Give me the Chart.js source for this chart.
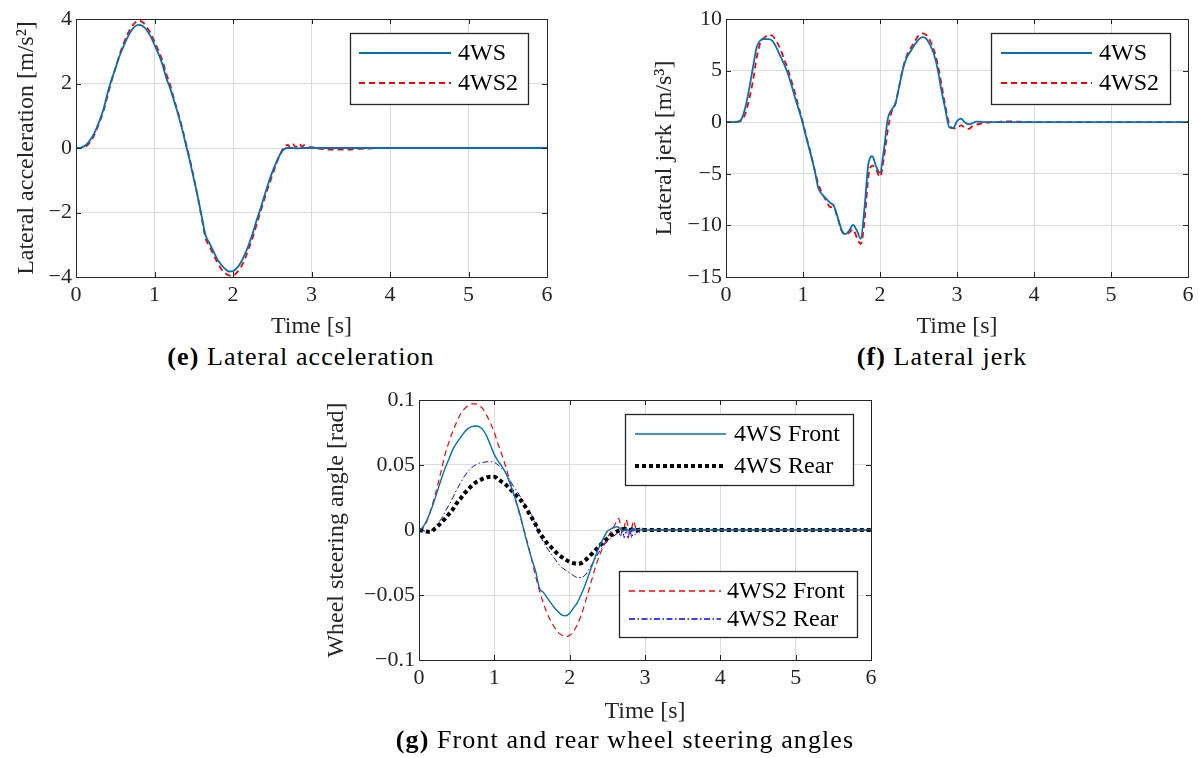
<!DOCTYPE html>
<html>
<head>
<meta charset="utf-8">
<script src="https://cdn.jsdelivr.net/npm/chart.js@4.4.0/dist/chart.umd.min.js"></script>
<style>
  html, body { margin: 0; padding: 0; background: #fff; }
  body { width: 1199px; height: 758px; position: relative; overflow: hidden; }
  canvas { position: absolute; }
  .cap { position: absolute; font-family: "Liberation Serif", serif; font-size: 26px; line-height: 30px;
         letter-spacing: 1.1px; color: #000; white-space: nowrap; transform: translateX(-50%); }
</style>
</head>
<body>
<canvas id="chartE" width="560" height="341" style="left:0;top:0"></canvas>
<canvas id="chartF" width="559" height="341" style="left:640px;top:0"></canvas>
<canvas id="chartG" width="590" height="346" style="left:300px;top:380px"></canvas>
<div class="cap" style="left:301px;top:342px"><b>(e)</b> Lateral acceleration</div>
<div class="cap" style="left:942px;top:342px"><b>(f)</b> Lateral jerk</div>
<div class="cap" style="left:625px;top:725px"><b>(g)</b> Front and rear wheel steering angles</div>
<script>
// --- data ---
const timeTicks = [0, 1, 2, 3, 4, 5, 6];

// (e) lateral acceleration [m/s^2]
const accelTicks = [-4, -2, 0, 2, 4];
const timeE = [0, 0.05, 0.1, 0.15, 0.2, 0.25, 0.3, 0.35, 0.4, 0.45,
  0.5, 0.55, 0.6, 0.65, 0.7, 0.75, 0.8, 0.85, 0.9, 0.95,
  1.0, 1.05, 1.1, 1.15, 1.2, 1.25, 1.3, 1.35, 1.4, 1.45,
  1.5, 1.55, 1.6, 1.65, 1.7, 1.75, 1.8, 1.85, 1.9, 1.95,
  2.0, 2.05, 2.1, 2.15, 2.2, 2.25, 2.3, 2.35, 2.4, 2.45,
  2.5, 2.55, 2.6, 2.65, 2.7,
  2.73, 2.76, 2.8, 2.84, 2.88, 2.92, 2.96, 3.0, 3.1, 3.2, 3.4, 3.6, 3.8, 4.0, 5.0, 6.0];
const accel4WS = [0, 0, 0.05, 0.15, 0.32, 0.55, 0.85, 1.2, 1.68, 2.1,
  2.45, 2.82, 3.12, 3.4, 3.62, 3.77, 3.82, 3.78, 3.66, 3.46,
  3.2, 2.92, 2.6, 2.17, 1.85, 1.45, 1.05, 0.6, 0.1, -0.4,
  -0.95, -1.5, -2.1, -2.7, -2.95, -3.2, -3.45, -3.62, -3.75, -3.83,
  -3.82, -3.72, -3.55, -3.3, -3.0, -2.65, -2.25, -1.88, -1.48, -1.1,
  -0.75, -0.45, -0.2, -0.04, 0,
  0, 0, -0.01, -0.01, 0, 0, 0, 0, 0, 0, 0, 0, 0, 0, 0, 0];
const accel4WS2 = [0, 0, 0.02, 0.1, 0.25, 0.5, 0.8, 1.15, 1.6, 2.05,
  2.45, 2.85, 3.2, 3.5, 3.72, 3.88, 3.95, 3.9, 3.76, 3.56,
  3.3, 3.02, 2.72, 2.3, 1.95, 1.5, 1.1, 0.65, 0.15, -0.35,
  -0.9, -1.5, -2.15, -2.8, -3.05, -3.3, -3.55, -3.75, -3.88, -3.95,
  -3.96, -3.86, -3.7, -3.45, -3.12, -2.78, -2.38, -1.98, -1.58, -1.2,
  -0.85, -0.5, -0.2, 0.02, 0.1,
  0.02, 0.12, 0.03, 0.13, 0.05, 0.1, 0.02, 0.03, -0.02, -0.05, -0.05, -0.03, -0.01, 0, 0, 0];

// (f) lateral jerk [m/s^3]
const jerkTicks = [-15, -10, -5, 0, 5, 10];
const timeF = [0, 0.05, 0.1, 0.15, 0.2, 0.25, 0.3, 0.35, 0.4, 0.45,
  0.5, 0.55, 0.6, 0.65, 0.7, 0.75, 0.8, 0.85, 0.9, 0.95,
  1.0, 1.05, 1.1, 1.15, 1.2, 1.25, 1.3, 1.35, 1.4, 1.45,
  1.5, 1.55, 1.6, 1.65, 1.7, 1.75, 1.8, 1.85, 1.9, 1.95,
  2.0, 2.05, 2.1, 2.15, 2.2, 2.25, 2.3, 2.35, 2.4, 2.45,
  2.5, 2.55, 2.6, 2.65, 2.7, 2.75, 2.8, 2.85, 2.9, 2.95,
  3.0, 3.05, 3.1, 3.15, 3.2, 3.25, 3.3, 3.35, 3.4, 3.45,
  3.5, 3.6, 3.7, 3.8, 4.0, 5.0, 6.0];
const jerk4WS = [0, 0, 0, 0.05, 0.3, 1.4, 3.2, 5.3, 7.3, 7.95,
  8.05, 8.05, 7.9, 7.3, 6.5, 5.7, 4.8, 3.6, 2.3, 1.1,
  -0.2, -1.7, -3.1, -4.6, -6.4, -7.0, -7.4, -7.8, -8.1, -9.2,
  -10.4, -10.85, -10.5, -9.95, -10.5, -11.3, -8.2, -4.0, -3.3, -4.3,
  -4.9, -2.7, 0.3, 1.2, 1.8, 3.5, 5.2, 6.3, 6.9, 7.5,
  8.0, 8.25, 8.1, 7.5, 6.6, 5.1, 3.0, 1.2, -0.5, -0.55,
  0.1, 0.35, 0.0, -0.2, -0.1, 0.05, 0.05, 0, 0, 0,
  0, 0, 0, 0, 0, 0, 0];
const jerk4WS2 = [0, 0, 0, 0.02, 0.15, 0.8, 2.2, 4.0, 6.3, 7.8,
  8.2, 8.45, 8.4, 7.9, 7.2, 6.2, 5.2, 4.0, 2.7, 1.3,
  -0.1, -1.6, -3.0, -4.6, -6.0, -6.9, -7.6, -8.2, -8.3, -9.3,
  -10.5, -10.9, -10.7, -10.4, -11.2, -11.8, -9.5, -5.2, -4.2, -4.6,
  -5.3, -3.5, -0.8, 1.0, 1.8, 3.5, 5.3, 6.5, 7.2, 7.8,
  8.4, 8.6, 8.45, 7.9, 7.0, 5.6, 3.6, 1.5, -0.2, -0.6,
  -0.6, -0.3, -0.5, -0.65, -0.4, -0.25, -0.15, -0.1, -0.05, 0,
  0, 0.08, 0.08, 0.05, 0, 0, 0];

// (g) wheel steering angle [rad]
const angleTicks = [-0.1, -0.05, 0, 0.05, 0.1];
const timeG = [0, 0.05, 0.1, 0.15, 0.2, 0.25, 0.3, 0.35, 0.4, 0.45,
  0.5, 0.55, 0.6, 0.65, 0.7, 0.75, 0.8, 0.85, 0.9, 0.95,
  1.0, 1.05, 1.1, 1.15, 1.2, 1.25, 1.3, 1.35, 1.4, 1.45,
  1.5, 1.55, 1.6, 1.65, 1.7, 1.75, 1.8, 1.85, 1.9, 1.95,
  2.0, 2.05, 2.1, 2.15, 2.2, 2.25, 2.3, 2.35, 2.4, 2.45,
  2.5, 2.55, 2.6,
  2.625, 2.65, 2.675, 2.7, 2.725, 2.75, 2.775, 2.8, 2.825, 2.85, 2.875, 2.9, 2.925, 2.95, 2.975, 3.0,
  3.1, 3.2, 3.5, 4.0, 5.0, 6.0];
const front4WS = [0, 0.002, 0.007, 0.014, 0.022, 0.031, 0.040, 0.048, 0.055, 0.062,
  0.067, 0.071, 0.075, 0.078, 0.0795, 0.080, 0.0795, 0.077, 0.072, 0.065,
  0.058, 0.053, 0.049, 0.044, 0.037, 0.029, 0.020, 0.010, -0.002, -0.013,
  -0.023, -0.032, -0.045, -0.048, -0.052, -0.056, -0.060, -0.063, -0.0655, -0.066,
  -0.064, -0.060, -0.056, -0.050, -0.043, -0.035, -0.027, -0.019, -0.012, -0.006,
  -0.001, 0.001, 0.002,
  0.0025, 0.002, 0.0005, -0.001, 0, 0.001, 0, -0.001, 0.0005, 0.001, 0, 0, 0.0005, 0, 0, 0,
  0, 0, 0, 0, 0, 0];
const rear4WS = [0, -0.0005, -0.0012, -0.0015, 0.0005, 0.003, 0.006, 0.009, 0.0125, 0.016,
  0.0205, 0.024, 0.028, 0.031, 0.034, 0.0365, 0.038, 0.0395, 0.0405, 0.041,
  0.041, 0.039, 0.037, 0.035, 0.032, 0.029, 0.026, 0.023, 0.019, 0.014,
  0.009, 0.004, -0.002, -0.006, -0.010, -0.013, -0.016, -0.019, -0.021, -0.023,
  -0.0245, -0.0255, -0.026, -0.0255, -0.0235, -0.021, -0.018, -0.015, -0.012, -0.009,
  -0.0065, -0.004, -0.002,
  -0.0012, -0.0005, 0, 0.0005, 0.001, 0.0005, 0, 0, 0.0005, 0, 0, 0, 0, 0, 0, 0,
  0, 0, 0, 0, 0, 0];
const front4WS2 = [0, 0.001, 0.006, 0.014, 0.024, 0.035, 0.047, 0.059, 0.068, 0.076,
  0.083, 0.089, 0.093, 0.0955, 0.097, 0.097, 0.0955, 0.093, 0.088, 0.082,
  0.075, 0.066, 0.058, 0.049, 0.039, 0.029, 0.019, 0.009, -0.001, -0.012,
  -0.024, -0.036, -0.047, -0.056, -0.064, -0.070, -0.075, -0.079, -0.081, -0.082,
  -0.081, -0.078, -0.073, -0.066, -0.057, -0.047, -0.037, -0.027, -0.019, -0.012,
  -0.006, -0.001, 0.004,
  0.007, 0.009, 0.004, -0.002, 0.002, 0.008, 0.003, -0.003, 0.002, 0.007, 0.002, -0.002, 0.001, 0.003, 0, 0,
  0, 0, 0, 0, 0, 0];
const rear4WS2 = [0, -0.0005, -0.001, -0.001, 0.0015, 0.005, 0.009, 0.0145, 0.0195, 0.025,
  0.031, 0.036, 0.041, 0.045, 0.048, 0.050, 0.0515, 0.052, 0.0525, 0.0525,
  0.052, 0.050, 0.047, 0.044, 0.039, 0.034, 0.030, 0.025, 0.020, 0.015,
  0.011, 0.004, -0.004, -0.009, -0.014, -0.018, -0.022, -0.026, -0.029, -0.031,
  -0.033, -0.035, -0.0365, -0.0365, -0.035, -0.031, -0.026, -0.021, -0.016, -0.012,
  -0.009, -0.006, -0.004,
  -0.003, -0.002, -0.005, 0.001, -0.006, 0.001, -0.007, 0.001, -0.006, 0.001, -0.004, 0.001, -0.002, 0, -0.001, 0,
  0, 0, 0, 0, 0, 0];

// --- helpers ---
const SERIF = '"Liberation Serif", "Times New Roman", serif';
const AXIS = '#262626';
const BLUE = '#0072BD';

function pts(xs, ys) {
  return xs.map((x, i) => ({ x: x, y: ys[i] }));
}

function fmt(v) {
  return String(v).replace('-', '\u2212');
}

// box round the axes, inward ticks, matlab-like legends
const matlabBox = {
  id: 'matlabBox',
  afterDatasetsDraw(chart, args, opts) {
    const { ctx, chartArea: a, scales } = chart;
    ctx.save();
    ctx.strokeStyle = AXIS;
    ctx.lineWidth = 1;
    ctx.setLineDash([]);
    ctx.beginPath();
    scales.x.ticks.forEach(t => {
      const px = Math.round(scales.x.getPixelForValue(t.value)) + 0.5;
      ctx.moveTo(px, a.bottom); ctx.lineTo(px, a.bottom - 5);
      ctx.moveTo(px, a.top); ctx.lineTo(px, a.top + 5);
    });
    scales.y.ticks.forEach(t => {
      const py = Math.round(scales.y.getPixelForValue(t.value)) + 0.5;
      ctx.moveTo(a.left, py); ctx.lineTo(a.left + 5, py);
      ctx.moveTo(a.right, py); ctx.lineTo(a.right - 5, py);
    });
    ctx.stroke();
    ctx.strokeRect(Math.round(a.left) + 0.5, Math.round(a.top) + 0.5,
      Math.round(a.right - a.left), Math.round(a.bottom - a.top));

    (opts.legends || []).forEach(lg => {
      const [x0, y0, x1, y1] = lg.box;
      ctx.fillStyle = '#fff';
      ctx.fillRect(x0, y0, x1 - x0, y1 - y0);
      ctx.lineWidth = 1.3;
      ctx.strokeStyle = AXIS;
      ctx.strokeRect(x0 + 0.5, y0 + 0.5, x1 - x0, y1 - y0);
      lg.rows.forEach(r => {
        const ds = chart.data.datasets[r.ds];
        ctx.beginPath();
        ctx.strokeStyle = ds.borderColor;
        ctx.lineWidth = Math.max(ds.borderWidth, 1.4);
        ctx.setLineDash(ds.borderDash || []);
        ctx.moveTo(lg.sample[0], r.y);
        ctx.lineTo(lg.sample[1], r.y);
        ctx.stroke();
        ctx.setLineDash([]);
        ctx.fillStyle = '#000';
        ctx.font = '24px ' + SERIF;
        ctx.textBaseline = 'middle';
        ctx.textAlign = 'left';
        ctx.fillText(ds.label, lg.textX, r.y + 1);
      });
    });
    ctx.restore();
  }
};

function makeChart(id, cfg) {
  const tickFont = { family: SERIF, size: 22 };
  const titleFont = { family: SERIF, size: 24 };
  return new Chart(document.getElementById(id), {
    type: 'line',
    data: { datasets: cfg.datasets },
    options: {
      responsive: false,
      animation: false,
      devicePixelRatio: 1,
      layout: { autoPadding: false, padding: cfg.padding },
      elements: {
        point: { radius: 0 },
        line: { cubicInterpolationMode: 'monotone', fill: false, borderCapStyle: 'butt' }
      },
      plugins: {
        legend: { display: false },
        tooltip: { enabled: false },
        matlabBox: { legends: cfg.legends }
      },
      scales: {
        x: {
          type: 'linear', min: 0, max: 6,
          afterBuildTicks: s => { s.ticks = timeTicks.map(v => ({ value: v })); },
          afterFit: s => { s.height = cfg.xHeight; },
          grid: { color: '#dddddd', lineWidth: 1, drawTicks: false },
          border: { display: false },
          ticks: { font: tickFont, color: AXIS, padding: 5, autoSkip: false, maxRotation: 0,
                   callback: v => fmt(v) },
          title: { display: true, text: 'Time [s]', font: titleFont, color: AXIS, padding: 0 }
        },
        y: {
          type: 'linear', min: cfg.yTicks[0], max: cfg.yTicks[cfg.yTicks.length - 1],
          afterBuildTicks: s => { s.ticks = cfg.yTicks.map(v => ({ value: v })); },
          afterFit: s => { s.width = cfg.yWidth; },
          grid: { color: '#dddddd', lineWidth: 1, drawTicks: false },
          border: { display: false },
          ticks: { font: tickFont, color: AXIS, padding: 4, autoSkip: false,
                   callback: v => fmt(v) },
          title: { display: true, text: cfg.yTitle, font: titleFont, color: AXIS,
                   padding: { top: cfg.yTitlePad, bottom: 0 } }
        }
      }
    },
    plugins: [matlabBox]
  });
}

makeChart('chartE', {
  yTicks: accelTicks,
  yTitle: 'Lateral acceleration [m/s\u00B2]',
  yWidth: 76, xHeight: 64, yTitlePad: 12,
  padding: { top: 19, right: 13, left: 0, bottom: 0 },
  datasets: [
    { label: '4WS', data: pts(timeE, accel4WS), borderColor: BLUE, borderWidth: 1.8 },
    { label: '4WS2', data: pts(timeE, accel4WS2), borderColor: '#ff0000', borderWidth: 1.8, borderDash: [6, 4] }
  ],
  legends: [
    { box: [350, 33, 528, 104], sample: [359, 451], textX: 458, rows: [{ ds: 0, y: 53 }, { ds: 1, y: 83 }] }
  ]
});

makeChart('chartF', {
  yTicks: jerkTicks,
  yTitle: 'Lateral jerk [m/s\u00B3]',
  yWidth: 86, xHeight: 64, yTitlePad: 10.5,
  padding: { top: 19, right: 11, left: 0, bottom: 0 },
  datasets: [
    { label: '4WS', data: pts(timeF, jerk4WS), borderColor: BLUE, borderWidth: 1.8 },
    { label: '4WS2', data: pts(timeF, jerk4WS2), borderColor: '#ff0000', borderWidth: 1.8, borderDash: [6, 4] }
  ],
  legends: [
    { box: [351, 33, 530, 104], sample: [361, 452], textX: 459, rows: [{ ds: 0, y: 53 }, { ds: 1, y: 83 }] }
  ]
});

makeChart('chartG', {
  yTicks: angleTicks,
  yTitle: 'Wheel steering angle [rad]',
  yWidth: 119, xHeight: 66, yTitlePad: 22.5,
  padding: { top: 20, right: 19, left: 0, bottom: 0 },
  datasets: [
    { label: '4WS Front', data: pts(timeG, front4WS), borderColor: BLUE, borderWidth: 1.4 },
    { label: '4WS Rear', data: pts(timeG, rear4WS), borderColor: '#000000', borderWidth: 4, borderDash: [4, 3] },
    { label: '4WS2 Front', data: pts(timeG, front4WS2), borderColor: '#ff0000', borderWidth: 1.2, borderDash: [6, 4] },
    { label: '4WS2 Rear', data: pts(timeG, rear4WS2), borderColor: '#0000ff', borderWidth: 1, borderDash: [6, 2.5, 1.5, 2.5] }
  ],
  legends: [
    { box: [325, 34, 553, 105], sample: [335, 426], textX: 434, rows: [{ ds: 0, y: 54 }, { ds: 1, y: 86 }] },
    { box: [319, 191, 557, 257], sample: [329, 421], textX: 427, rows: [{ ds: 2, y: 211 }, { ds: 3, y: 239 }] }
  ]
});
</script>
</body>
</html>
